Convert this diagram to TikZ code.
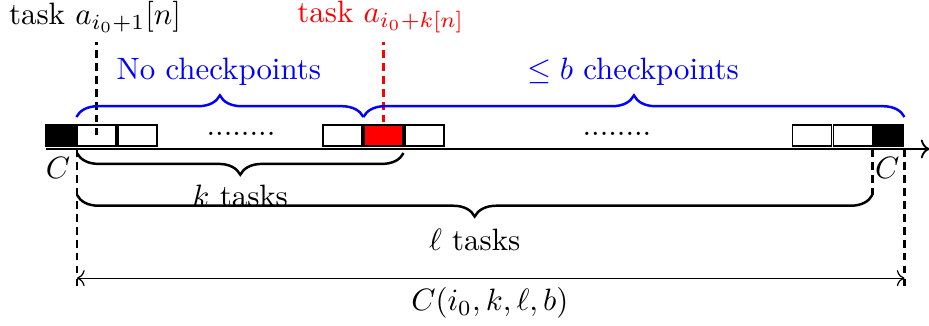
\documentclass[tikz,border=0pt]{standalone}
\usepackage{amsmath,amssymb}
\usepackage{tikz}
\usetikzlibrary{arrows.meta,decorations.pathreplacing,calc,positioning}

\begin{document}
\begin{tikzpicture}[x=0.4665cm,y=0.4665cm,every node/.style={font=\normalsize},
  taskbox/.style={draw,inner sep=0pt,minimum width=12.6pt,minimum height=6.8pt},
  ckpt/.style={draw,fill=black,inner sep=0pt,minimum width=10pt,minimum height=6.8pt},
  brc/.style={decorate,decoration={brace,amplitude=7pt},thick},
  mbrc/.style={decorate,decoration={brace,mirror,amplitude=7pt},thick},
  vline/.style={thick,dash pattern=on 2.5pt off 1.7pt}]
\useasboundingbox (-1.878,-4.317) rectangle (20.78,3.634);
\draw[semithick,->] (-0.754,0)--(20.8,0);
\node[ckpt] (cl) at (-0.377,0.33) {};
\node[taskbox] (t1) at (0.475,0.33) {};
\node[taskbox] (t2) at (1.475,0.33) {};
\node (d1) at (4,0.38) {........};
\node[taskbox] (t6) at (6.475,0.33) {};
\node[taskbox,fill=red] (tk) at (7.475,0.33) {};
\node[taskbox] (t8) at (8.475,0.33) {};
\node (d2) at (13.17,0.38) {........};
\node[taskbox] (tr1) at (17.92,0.33) {};
\node[taskbox] (tr2) at (18.92,0.33) {};
\node[ckpt] (cr) at (19.79,0.33) {};
\node (Cl) at (-0.46,-0.46) {$C$};
\node (Cr) at (19.76,-0.46) {$C$};
\node (l1) at (0.44,3.22) {task $a_{i_0+1}[n]$};
\node[red] (lk) at (7.41,3.22) {task $a_{i_0+k[n]}$};
\draw[vline] (t1.center)--(t1.center |- 0,2.61);
\draw[vline,red] (tk.center)--(tk.center |- 0,2.61);
\draw[brc,blue] (t1.west |- 0,0.78)--(tk.west |- 0,0.78);
\draw[brc,blue] (tk.west |- 0,0.78)--(cr.east |- 0,0.78);
\node[blue] (nc) at (3.46,1.88) {No checkpoints};
\node[blue] (bc) at (13.56,1.88) {$\leq b$ checkpoints};
\coordinate (s0) at (0,0);
\coordinate (e0) at (0,-3.39);
\coordinate (s1) at (cr.east |- 0,0);
\coordinate (e1) at (cr.east |- 0,-3.39);
\coordinate (s2) at (cr.west |- 0,0);
\coordinate (e2) at (cr.west |- 0,-1.12);
\draw[vline] (s0)--(e0);
\draw[vline] (s1)--(e1);
\draw[vline] (s2)--(e2);
\draw[mbrc] (0,-0.1)--(tk.east |- 0,-0.1);
\node (kt) at (3.98,-1.15) {$k$ tasks};
\draw[mbrc] (0,-1.12)--(e2);
\node (lt) at (9.7,-2.22) {$\ell$ tasks};
\coordinate (al) at (0,-3.15);
\coordinate (ar) at (cr.east |- 0,-3.15);
\draw[<->] (al)--(ar);
\node (cost) at (10.07,-3.76) {$C(i_0,k,\ell,b)$};
\end{tikzpicture}
\end{document}
